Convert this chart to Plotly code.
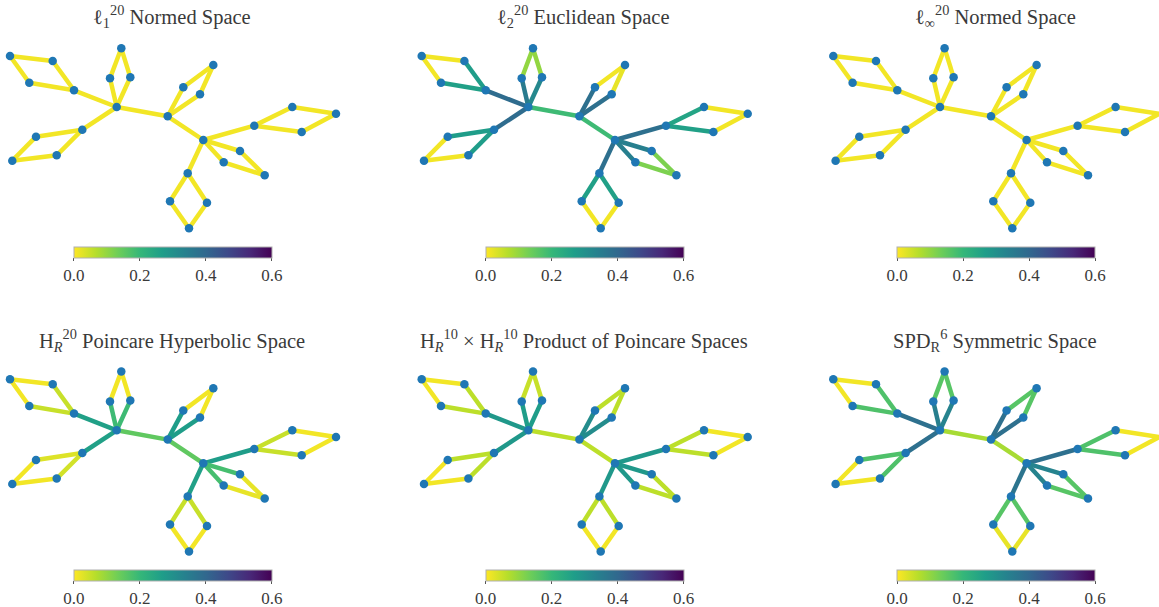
import plotly.graph_objects as go
import plotly.colors as pc

# ---------------- data ----------------
node_names = ["L", "A1", "A2", "A3", "A4", "B1", "B2", "B3", "C1", "C2", "C3", "C4",
              "M", "D1", "D2", "D3", "R", "E1", "E2", "E3", "E4", "F1", "F2", "F3",
              "G1", "G2", "G3", "G4"]
node_x = [116.7, 10.0, 52.7, 29.3, 74.0, 121.3, 110.0, 130.3, 82.3, 36.0, 56.7, 12.3,
          167.7, 213.3, 183.3, 200.0, 203.3, 254.3, 292.3, 336.0, 301.7, 240.0, 223.7, 264.7,
          187.7, 170.0, 207.0, 189.0]
node_y = [107.0, 56.0, 61.0, 82.7, 90.3, 48.3, 78.3, 77.3, 129.7, 136.7, 155.3, 160.7,
          116.3, 65.0, 87.3, 94.3, 140.0, 125.7, 107.0, 113.7, 132.0, 151.0, 162.3, 175.3,
          173.3, 201.3, 202.7, 228.3]

edge_src = ["L", "A4", "A4", "A2", "A3", "L", "L", "B2", "B3", "L", "C1", "C1", "C2", "C3",
            "L", "M", "M", "D2", "D3", "M", "R", "E1", "E1", "E2", "E4", "R", "R", "F1", "F2",
            "R", "G1", "G1", "G2", "G3"]
edge_dst = ["A4", "A2", "A3", "A1", "A1", "B2", "B3", "B1", "B1", "C1", "C2", "C3", "C4", "C4",
            "M", "D2", "D3", "D1", "D1", "R", "E1", "E2", "E4", "E3", "E3", "F1", "F2", "F3", "F3",
            "G1", "G2", "G3", "G4", "G4"]

dist_l1 = [0.01] * 34
dist_linf = [0.01] * 34
dist_l2 = [0.39, 0.27, 0.26, 0.01, 0.01, 0.35, 0.32, 0.10, 0.10, 0.39, 0.27, 0.27, 0.01, 0.01,
           0.19, 0.38, 0.38, 0.01, 0.02, 0.19, 0.38, 0.25, 0.26, 0.01, 0.01, 0.34, 0.34, 0.12, 0.12,
           0.38, 0.26, 0.26, 0.01, 0.01]
dist_poincare = [0.26, 0.05, 0.05, 0.01, 0.01, 0.19, 0.19, 0.01, 0.01, 0.26, 0.03, 0.04, 0.01, 0.01,
                 0.15, 0.27, 0.27, 0.01, 0.01, 0.15, 0.27, 0.05, 0.05, 0.01, 0.01, 0.18, 0.18, 0.02, 0.02,
                 0.26, 0.05, 0.05, 0.01, 0.01]
dist_product = [0.28, 0.06, 0.06, 0.01, 0.01, 0.27, 0.27, 0.05, 0.05, 0.28, 0.06, 0.06, 0.01, 0.01,
                0.06, 0.31, 0.31, 0.06, 0.06, 0.06, 0.28, 0.06, 0.06, 0.01, 0.01, 0.28, 0.28, 0.06, 0.06,
                0.28, 0.06, 0.06, 0.01, 0.01]
dist_spd = [0.38, 0.17, 0.17, 0.01, 0.01, 0.34, 0.33, 0.16, 0.16, 0.38, 0.17, 0.17, 0.01, 0.01,
            0.08, 0.38, 0.38, 0.16, 0.16, 0.08, 0.38, 0.17, 0.17, 0.01, 0.01, 0.33, 0.33, 0.16, 0.16,
            0.37, 0.16, 0.16, 0.02, 0.02]

panel_titles = [
    "ℓ<sub>1</sub><sup>20</sup> Normed Space",
    "ℓ<sub>2</sub><sup>20</sup> Euclidean Space",
    "ℓ<sub>∞</sub><sup>20</sup> Normed Space",
    "H<sub><i>R</i></sub><sup>20</sup> Poincare Hyperbolic Space",
    "H<sub><i>R</i></sub><sup>10</sup> × H<sub><i>R</i></sub><sup>10</sup> Product of Poincare Spaces",
    "SPD<sub>R</sub><sup>6</sup> Symmetric Space",
]
panel_values = [dist_l1, dist_l2, dist_linf, dist_poincare, dist_product, dist_spd]
cbar_ticks = [0.0, 0.2, 0.4, 0.6]
cbar_ticktext = ["0.0", "0.2", "0.4", "0.6"]

# ---------------- style / layout ----------------
W, H = 1159, 607
COL_OFF = [0.0, 411.7, 823.3]
ROW_OFF = [0.0, 323.3]
VMIN, VMAX = 0.0, 0.6
FONT = "Liberation Serif, DejaVu Serif, serif"
TXT = "#3a3a3a"
NODE_COLOR = "#1f77b4"
scale = pc.make_colorscale(pc.sequential.Viridis[::-1])

idx = {n: i for i, n in enumerate(node_names)}

fig = go.Figure()
annotations = []
layout_axes = {}

for p in range(6):
    r, c = divmod(p, 3)
    ox, oy = COL_OFF[c], ROW_OFF[r]
    sfx = "" if p == 0 else str(p + 1)
    xa, ya = "x" + sfx, "y" + sfx

    # pixel box of the axes
    px0, px1 = ox, min(ox + 350.0, W)
    py0, py1 = oy + 30.0, oy + 240.0
    layout_axes["xaxis" + sfx] = dict(domain=[px0 / W, px1 / W], range=[px0 - ox, px1 - ox],
                                      visible=False, anchor=ya, fixedrange=True)
    layout_axes["yaxis" + sfx] = dict(domain=[1 - py1 / H, 1 - py0 / H], range=[py1 - oy, py0 - oy],
                                      visible=False, anchor=xa, fixedrange=True)

    vals = panel_values[p]
    mids_x, mids_y = [], []
    for s, d, v in zip(edge_src, edge_dst, vals):
        i, j = idx[s], idx[d]
        col = pc.sample_colorscale(scale, [(v - VMIN) / (VMAX - VMIN)])[0]
        fig.add_trace(go.Scatter(x=[node_x[i], node_x[j]], y=[node_y[i], node_y[j]],
                                 mode="lines", line=dict(color=col, width=4.5),
                                 xaxis=xa, yaxis=ya, hoverinfo="skip", cliponaxis=False))
        mids_x.append((node_x[i] + node_x[j]) / 2)
        mids_y.append((node_y[i] + node_y[j]) / 2)

    # colorbar carrier (invisible markers at edge midpoints)
    fig.add_trace(go.Scatter(
        x=mids_x, y=mids_y, mode="markers", xaxis=xa, yaxis=ya, hoverinfo="skip",
        marker=dict(size=1, opacity=0, color=vals, colorscale=scale, cmin=VMIN, cmax=VMAX,
                    showscale=True,
                    colorbar=dict(orientation="h", lenmode="pixels", len=197.7,
                                  thickness=10.5, x=(ox + 172.9) / W, xanchor="center",
                                  y=1 - (oy + 246.7) / H, yanchor="top", xpad=0, ypad=0,
                                  outlinewidth=1, outlinecolor="#b0b0b0",
                                  ticks="outside", ticklen=3, tickcolor="#555555",
                                  tickvals=cbar_ticks, ticktext=cbar_ticktext,
                                  tickfont=dict(family=FONT, size=17, color=TXT)))))

    fig.add_trace(go.Scatter(x=node_x, y=node_y, mode="markers", xaxis=xa, yaxis=ya,
                             marker=dict(size=8.5, color=NODE_COLOR), text=node_names,
                             hoverinfo="text", cliponaxis=False))

    annotations.append(dict(text=panel_titles[p], x=(ox + 172.0) / W, y=1 - (oy + 17.0) / H,
                            xref="paper", yref="paper", xanchor="center", yanchor="middle",
                            showarrow=False, font=dict(family=FONT, size=20.5, color=TXT)))

fig.update_layout(width=W, height=H, margin=dict(l=0, r=0, t=0, b=0, autoexpand=False),
                  paper_bgcolor="white", plot_bgcolor="white", showlegend=False,
                  annotations=annotations, **layout_axes)

fig.write_html("out.html", config={"displayModeBar": False},
               post_script="document.body.style.margin='0';document.body.style.overflow='hidden';")
